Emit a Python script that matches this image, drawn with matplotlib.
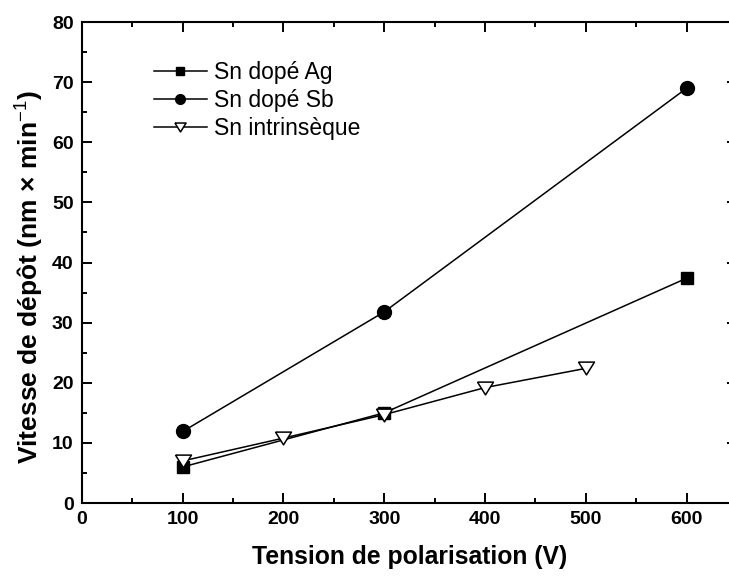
import matplotlib
matplotlib.use("Agg")
import matplotlib.pyplot as plt
from matplotlib.ticker import MultipleLocator

plt.rcParams["font.family"] = ["Liberation Sans", "DejaVu Sans"]
plt.rcParams["mathtext.fontset"] = "custom"
plt.rcParams["mathtext.rm"] = "Liberation Sans"
plt.rcParams["mathtext.bf"] = "Liberation Sans:bold"

# ---- data ----
ag_x = [100, 300, 600]
ag_y = [6.0, 15.0, 37.4]

sb_x = [100, 300, 600]
sb_y = [11.9, 31.8, 69.0]

intr_x = [100, 200, 300, 400, 500]
intr_y = [7.0, 10.8, 14.7, 19.2, 22.4]

labels = ["Sn dopé Ag", "Sn dopé Sb", "Sn intrinsèque"]

# wide, flat down-pointing triangle as in the original
tri_down = [(-1, 0.8), (1, 0.8), (0, -0.8), (-1, 0.8)]

fig = plt.figure(figsize=(7.29, 5.77), dpi=100)
ax = fig.add_axes([0.1123, 0.1282, 0.8988, 0.8336])

ax.plot(ag_x, ag_y, color="black", lw=1.1, marker="s", ms=8.6,
        mfc="black", mec="black", label=labels[0])
ax.plot(sb_x, sb_y, color="black", lw=1.1, marker="o", ms=10,
        mfc="black", mec="black", label=labels[1])
ax.plot(intr_x, intr_y, color="black", lw=1.1, marker=tri_down, ms=11.5,
        mfc="white", mec="black", mew=1.1, label=labels[2])

ax.set_xlim(0, 650)
ax.set_ylim(0, 80)
ax.xaxis.set_major_locator(MultipleLocator(100))
ax.xaxis.set_minor_locator(MultipleLocator(50))
ax.yaxis.set_major_locator(MultipleLocator(10))
ax.yaxis.set_minor_locator(MultipleLocator(5))

ax.tick_params(which="both", direction="in", top=True, right=True, width=1.4)
ax.tick_params(which="major", length=7.2, labelsize=14, pad=6)
ax.tick_params(which="minor", length=3.6)
for lab in ax.get_xticklabels() + ax.get_yticklabels():
    lab.set_fontweight("bold")
for sp in ax.spines.values():
    sp.set_linewidth(1.5)

ax.set_xlabel("Tension de polarisation (V)", fontsize=17.8, fontweight="bold", labelpad=12)
ax.set_ylabel(r"Vitesse de dépôt (nm × min$^{-1}$)", fontsize=19,
              fontweight="bold", labelpad=6)
ax.yaxis.set_label_coords(-0.056, 0.47)

leg = ax.legend(loc="upper left", bbox_to_anchor=(0.11, 0.918), frameon=False,
                fontsize=16.5, handlelength=2.3, handletextpad=0.3,
                labelspacing=0.2, borderpad=0, borderaxespad=0, markerscale=0.7)

fig.savefig("out.png", dpi=100)
